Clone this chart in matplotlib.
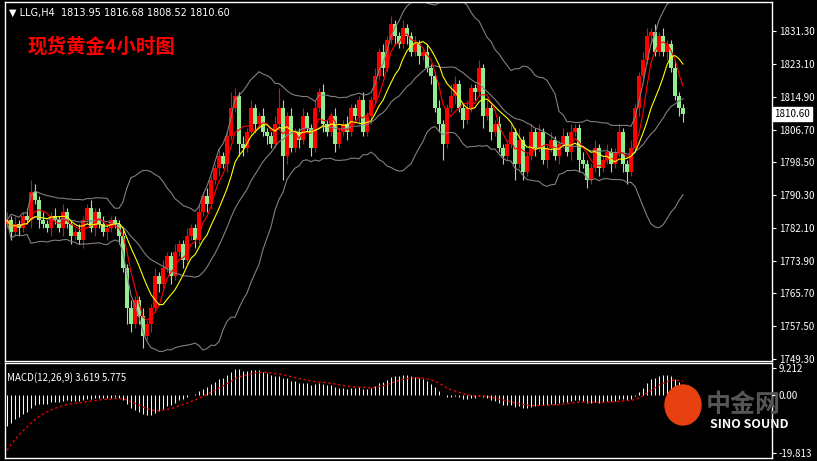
import numpy as np
import matplotlib
matplotlib.use('Agg')
from matplotlib import pyplot as plt
from matplotlib.patches import Rectangle, Ellipse

plt.rcParams['font.family'] = ['Noto Sans CJK SC', 'DejaVu Sans']

# 4h closes (left to right)
closes = [1784, 1781, 1783, 1782, 1785, 1784, 1791, 1789,
          1784, 1783, 1782, 1785, 1784, 1782, 1786, 1783, 1780, 1781,
          1779, 1784, 1787, 1782, 1786, 1783, 1781, 1782, 1784, 1783,
          1780, 1772, 1762, 1758, 1764, 1760, 1755, 1758, 1762, 1770,
          1768, 1772, 1775, 1770, 1776, 1778, 1774, 1780, 1782, 1779,
          1786, 1790, 1788, 1794, 1797, 1800, 1798, 1805, 1812, 1815,
          1803, 1802, 1806, 1812, 1808, 1810, 1806, 1805, 1803, 1808,
          1812, 1800, 1810, 1802, 1806, 1804, 1810, 1807, 1802, 1812,
          1816, 1808, 1806, 1810, 1803, 1806, 1808, 1806, 1812, 1810,
          1814, 1806, 1810, 1814, 1820, 1826, 1822, 1829, 1833, 1830,
          1828, 1832, 1830, 1826, 1828, 1825, 1826, 1822, 1820, 1812,
          1808, 1803, 1812, 1815, 1818, 1812, 1809, 1812, 1817, 1816,
          1822, 1810, 1812, 1806, 1808, 1802, 1800, 1803, 1806, 1798,
          1804, 1796, 1800, 1806, 1802, 1806, 1799, 1802, 1804, 1800,
          1803, 1805, 1801, 1806, 1807, 1799, 1798, 1794, 1797, 1802,
          1797, 1799, 1801, 1798, 1801, 1806, 1798, 1796, 1802, 1812,
          1820, 1824, 1830, 1831, 1826, 1830, 1826, 1828, 1822, 1815,
          1812, 1810.6]
upper_wick = [2, 1, 2, 1, 1, 2, 3, 2, 1, 2, 1, 1, 2, 1, 2, 1, 1, 1,
              2, 1, 1, 2, 1, 1, 2, 1, 1, 1, 1, 2, 1, 2, 1, 1, 2, 1, 1, 2,
              1, 2, 1, 1, 2, 1, 1, 2, 1, 1, 2, 1, 2, 1, 1, 2, 1, 1, 4, 2,
              1, 2, 1, 2, 1, 1, 2, 1, 1, 2, 5, 2, 1, 2, 1, 1, 2, 1, 1, 2,
              1, 2, 1, 1, 2, 1, 1, 2, 1, 1, 1, 2, 1, 1, 2, 1, 2, 1, 2, 1,
              1, 2, 1, 1, 2, 1, 1, 2, 1, 1, 2, 1, 1, 3, 2, 1, 1, 2, 1, 1,
              2, 1, 2, 1, 1, 2, 1, 1, 2, 1, 3, 1, 1, 2, 1, 2, 1, 1, 2, 1,
              1, 2, 1, 2, 1, 1, 2, 1, 1, 2, 1, 1, 2, 1, 1, 2, 1, 1, 2, 1,
              1, 2, 2, 1, 2, 1, 2, 1, 1, 2, 1, 1]
lower_wick = [1, 2, 1, 2, 1, 1, 2, 1, 2, 1, 1, 2, 1, 1, 2, 1, 2, 1,
              1, 2, 1, 1, 2, 1, 1, 2, 1, 1, 2, 1, 4, 2, 1, 2, 3, 1, 2, 1,
              2, 1, 1, 2, 1, 1, 2, 1, 1, 2, 1, 1, 2, 1, 1, 2, 1, 2, 1, 1,
              3, 2, 1, 1, 2, 1, 1, 2, 1, 1, 1, 6, 2, 1, 1, 2, 1, 1, 2, 1,
              1, 2, 1, 1, 2, 1, 1, 2, 1, 1, 2, 1, 1, 2, 1, 1, 2, 1, 1, 2,
              1, 1, 2, 1, 1, 2, 1, 1, 2, 1, 2, 4, 1, 1, 2, 1, 2, 1, 1, 2,
              1, 3, 1, 2, 1, 1, 2, 1, 1, 4, 1, 2, 1, 1, 2, 1, 1, 2, 1, 1,
              2, 1, 1, 2, 1, 3, 1, 2, 1, 1, 2, 1, 1, 2, 1, 1, 2, 3, 1, 1,
              2, 1, 1, 2, 1, 1, 1, 2, 1, 1, 2, 2]
price_ticks = [1831.30, 1823.10, 1814.90, 1806.70, 1798.50, 1790.30,
               1782.10, 1773.90, 1765.70, 1757.50, 1749.30]
macd_ticks = [9.212, 0.00, -19.813]

c = np.array(closes, dtype=float)
o = np.concatenate([[c[0] - 1], c[:-1]])
h = np.maximum(o, c) + np.array(upper_wick)
l = np.minimum(o, c) - np.array(lower_wick)
n = len(c)
x = np.arange(n)


def sma(v, k):
    out = np.full(len(v), np.nan)
    for i in range(len(v)):
        j = max(0, i - k + 1)
        out[i] = v[j:i + 1].mean()
    return out


def ema(v, k, seed):
    a = 2 / (k + 1)
    out = np.zeros(len(v))
    prev = seed
    for i in range(len(v)):
        prev = a * v[i] + (1 - a) * prev
        out[i] = prev
    return out


mid = sma(c, 20)
sd = np.array([c[max(0, i - 19):i + 1].std() for i in range(n)])
upper = mid + 2 * sd
lower = mid - 2 * sd
ma_fast = sma(c, 5)
ma_slow = sma(c, 10)
# seeds stand for the down-trend before the first visible bar
macd = ema(c, 12, 1776) - ema(c, 26, 1788)
signal = ema(macd, 9, -21)

W, H = 817, 461
fig = plt.figure(figsize=(W / 100, H / 100), dpi=100, facecolor='black')
ax = fig.add_axes([5 / W, 1 - 361 / H, 767 / W, 359 / H], facecolor='black')
ax2 = fig.add_axes([5 / W, 1 - 458 / H, 767 / W, 95 / H], facecolor='black')

for a in (ax, ax2):
    for s in a.spines.values():
        s.set_color('white')
        s.set_linewidth(1)
    a.yaxis.tick_right()
    a.tick_params(colors='white', labelsize=7, length=3, direction='out', pad=2)
    a.set_xticks([])
    a.set_xlim(-0.5, (772 - 5) / 4 - 0.5)

# candles
for i in range(n):
    col = 'red' if c[i] >= o[i] else '#90ee90'
    ax.vlines(x[i], l[i], h[i], color=col, lw=0.8)
    b0 = min(o[i], c[i])
    ax.add_patch(Rectangle((x[i] - 0.38, b0), 0.76, max(abs(c[i] - o[i]), 0.2),
                           color=col, lw=0))

ax.plot(x, upper, color='#808080', lw=0.8)
ax.plot(x, mid, color='#808080', lw=0.8)
ax.plot(x, lower, color='#808080', lw=0.8)
ax.plot(x, ma_fast, color='red', lw=0.8)
ax.plot(x, ma_slow, color='yellow', lw=0.8)
ax.set_ylim(1748.8, 1838.6)
ax.set_yticks(price_ticks)
ax.set_yticklabels([f'{t:.2f}' for t in price_ticks])
ax.text(1.003, (c[-1] - 1748.8) / (1838.6 - 1748.8), f'{c[-1]:.2f}',
        transform=ax.transAxes, fontsize=7, color='black', va='center',
        bbox=dict(facecolor='white', edgecolor='white', pad=1.2))
ax.text(0.005, 0.985, '▼ LLG,H4  1813.95 1816.68 1808.52 1810.60',
        transform=ax.transAxes, color='white', fontsize=7, va='top',
        family=['DejaVu Sans'])
ax.text(0.03, 0.875, '现货黄金4小时图', transform=ax.transAxes, color='red',
        fontsize=14, fontweight='bold', va='center', family=['Noto Sans CJK SC'])

ax2.vlines(x, 0, macd, color='white', lw=0.7)
ax2.plot(x, signal, color='red', lw=0.9, ls=(0, (2, 2)))
ax2.set_ylim(-21.5, 11)
ax2.set_yticks(macd_ticks)
ax2.set_yticklabels(['9.212', '0.00', '-19.813'])
ax2.text(0.003, 0.9, 'MACD(12,26,9) 3.619 5.775',
         transform=ax2.transAxes, color='white', fontsize=7, va='top')
fig.text(706 / W, 1 - 405 / H, '中金网', color='#555555', fontsize=18,
         fontweight='bold', va='center')
fig.text(710 / W, 1 - 424 / H, 'SINO SOUND', color='white', fontsize=9,
         fontweight='bold', va='center')
fig.add_artist(Ellipse((683 / W, 1 - 405 / H), 36 / W, 40 / H, color='#e84010',
                       transform=fig.transFigure))

fig.savefig('out.png', dpi=100, facecolor='black')
